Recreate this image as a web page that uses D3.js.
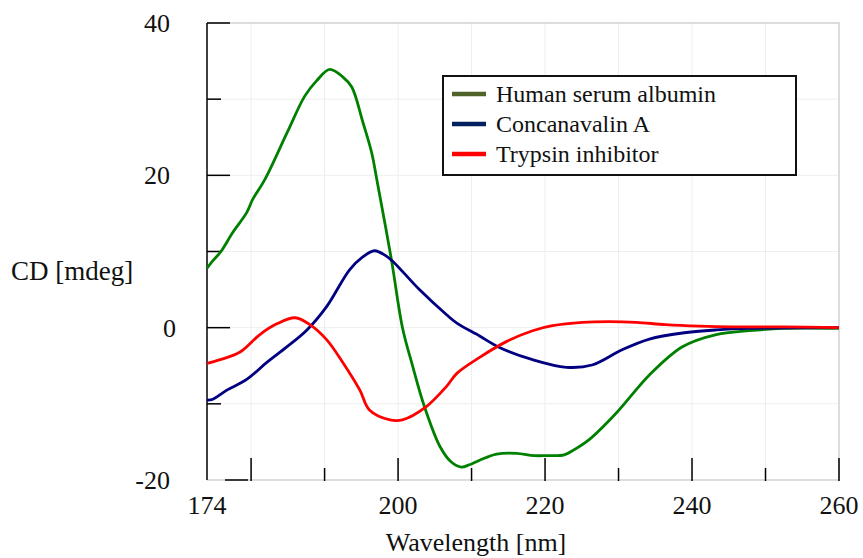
<!DOCTYPE html>
<html>
<head>
<meta charset="utf-8">
<script src="https://cdn.jsdelivr.net/npm/d3@7"></script>
<style>
  body { margin: 0; background: #fff; }
  text { font-family: "Liberation Serif", "Times New Roman", serif; fill: #111; }
</style>
</head>
<body>
<div id="chart"></div>
<script>
// Human serum albumin
var hsaWl = [174, 174.8, 175.9, 177.5, 179.4, 180.2, 181.9, 184.9, 187.3, 188.9, 190.7, 192.5, 193.7, 195.2, 196.4, 197.1, 199.1, 200.6, 202, 203.6, 205.7, 207.2, 208.6, 209.7, 211.1, 213.4, 216.1, 218.5, 220.2, 222.6, 224, 226, 229.7, 234.2, 238.7, 243.3, 247.8, 252.3, 260];
var hsaCd = [7.8, 8.8, 10.0, 12.5, 15.1, 16.8, 19.5, 25.6, 30.4, 32.4, 33.9, 32.9, 31.6, 27.0, 23.0, 19.5, 8.9, 0, -5.1, -10.4, -15.6, -17.6, -18.3, -18.0, -17.4, -16.6, -16.5, -16.8, -16.8, -16.7, -16.0, -14.7, -11.2, -6.2, -2.5, -0.9, -0.4, -0.1, -0.1];

// Concanavalin A
var conWl = [174, 174.8, 176.7, 179.4, 182.1, 184.9, 187.6, 190.3, 193.4, 195.2, 196.8, 198.4, 199.3, 202.9, 206.6, 208, 211.1, 213.8, 218.3, 222.9, 226.4, 230.5, 234.2, 238.7, 243.3, 247.8, 260];
var conCd = [-9.5, -9.4, -8.2, -6.8, -4.6, -2.5, -0.3, 2.8, 7.6, 9.3, 10.1, 9.4, 8.7, 5.0, 1.7, 0.6, -1.1, -2.6, -4.2, -5.2, -4.9, -2.9, -1.5, -0.7, -0.3, -0.1, 0];

// Trypsin inhibitor
var tryWl = [174, 175.8, 178.5, 181.2, 183.5, 186, 188, 190.3, 192.5, 194.8, 196.1, 198.9, 200.6, 203.8, 206.6, 208, 211.1, 214.8, 218.3, 221, 225.1, 228.7, 232.4, 236.4, 241, 245.5, 252.3, 260];
var tryCd = [-4.7, -4.2, -3.2, -0.9, 0.5, 1.3, 0.4, -1.6, -4.6, -8.2, -10.8, -12.1, -12.1, -10.4, -7.7, -6.0, -3.9, -1.8, -0.4, 0.26, 0.7, 0.8, 0.7, 0.4, 0.2, 0.1, 0.1, 0];

var seriesNames = ["Human serum albumin", "Concanavalin A", "Trypsin inhibitor"];
var xLabelTicks = [174, 200, 220, 240, 260];
var xMarkTicks = [180, 190, 200, 210, 220, 230, 240, 250, 260];
var yLabelTicks = [40, 20, 0, -20];
var yMarkTicks = [40, 30, 20, 10, 0, -10];

var lineColors = ["#008000", "#000080", "#ff0000"];
var legendColors = ["#4f6228", "#002060", "#ff0000"];

var svgWidth = 863;
var svgHeight = 558;

var svg = d3.select("#chart")
    .append("svg")
    .attr("width", svgWidth)
    .attr("height", svgHeight);

// plot area edges
var plotLeft = 207, plotRight = 839, plotTop = 23, plotBottom = 480;

var xScale = d3.scaleLinear().domain([174, 260]).range([plotLeft, plotRight]);
var yScale = d3.scaleLinear().domain([-20, 40]).range([plotBottom, plotTop]);

// light grid
svg.append("g").selectAll("line")
    .data([180, 190, 200, 210, 220, 230, 240, 250])
    .enter().append("line")
    .attr("x1", d => xScale(d)).attr("x2", d => xScale(d))
    .attr("y1", plotTop).attr("y2", plotBottom)
    .attr("stroke", "#eeeeee").attr("stroke-width", 1);

svg.append("g").selectAll("line")
    .data([30, 20, 10, 0, -10])
    .enter().append("line")
    .attr("x1", plotLeft).attr("x2", plotRight)
    .attr("y1", d => yScale(d)).attr("y2", d => yScale(d))
    .attr("stroke", "#eeeeee").attr("stroke-width", 1);

// frame: grey top / right / bottom, black left
svg.append("path")
    .attr("d", `M${plotLeft},${plotTop}H${plotRight}V${plotBottom}H${plotLeft}`)
    .attr("fill", "none")
    .attr("stroke", "#d2d2d2")
    .attr("stroke-width", 1.5);

svg.append("line")
    .attr("x1", plotLeft).attr("x2", plotLeft)
    .attr("y1", plotTop).attr("y2", plotBottom)
    .attr("stroke", "#000").attr("stroke-width", 1.5);

// y tick marks (long on labelled values)
svg.append("g").selectAll("line")
    .data(yMarkTicks)
    .enter().append("line")
    .attr("x1", plotLeft)
    .attr("x2", d => plotLeft + (d % 20 === 0 ? 23 : 14))
    .attr("y1", d => yScale(d)).attr("y2", d => yScale(d))
    .attr("stroke", "#000").attr("stroke-width", 1.5);

// the -20 mark sits a little to the right of the axis
svg.append("line")
    .attr("x1", plotLeft + 18).attr("x2", plotLeft + 41)
    .attr("y1", yScale(-20)).attr("y2", yScale(-20))
    .attr("stroke", "#000").attr("stroke-width", 1.5);

// x tick marks pointing up
svg.append("g").selectAll("line")
    .data(xMarkTicks)
    .enter().append("line")
    .attr("x1", d => xScale(d)).attr("x2", d => xScale(d))
    .attr("y1", plotBottom + 1)
    .attr("y2", d => plotBottom - (d % 20 === 0 ? 22 : 12))
    .attr("stroke", "#000").attr("stroke-width", 1.5);

// y labels
svg.append("g").selectAll("text")
    .data(yLabelTicks)
    .enter().append("text")
    .attr("x", d => d === 0 ? 176 : 170)
    .attr("y", d => yScale(d))
    .attr("dy", "0.34em")
    .attr("text-anchor", "end")
    .attr("font-size", "26px")
    .text(d => d);

// x labels
svg.append("g").selectAll("text")
    .data(xLabelTicks)
    .enter().append("text")
    .attr("x", d => xScale(d))
    .attr("y", 514)
    .attr("text-anchor", "middle")
    .attr("font-size", "26px")
    .text(d => d);

// axis titles
svg.append("text")
    .attr("x", 11)
    .attr("y", 280)
    .attr("font-size", "27px")
    .text("CD [mdeg]");

svg.append("text")
    .attr("x", 476)
    .attr("y", 551)
    .attr("text-anchor", "middle")
    .attr("font-size", "26px")
    .text("Wavelength [nm]");

// curves
var series = [
    { wl: hsaWl, cd: hsaCd },
    { wl: conWl, cd: conCd },
    { wl: tryWl, cd: tryCd }
];

var line = d3.line()
    .x(d => xScale(d[0]))
    .y(d => yScale(d[1]))
    .curve(d3.curveCatmullRom.alpha(0.5));

series.forEach(function (s, i) {
    var pts = s.wl.map((w, j) => [w, s.cd[j]]);
    svg.append("path")
        .datum(pts)
        .attr("d", line)
        .attr("fill", "none")
        .attr("stroke", lineColors[i])
        .attr("stroke-width", 2.8)
        .attr("stroke-linejoin", "round");
});

// legend
var legend = svg.append("g").attr("transform", "translate(443,76)");

legend.append("rect")
    .attr("x", 0).attr("y", 0)
    .attr("width", 353).attr("height", 99)
    .attr("fill", "#fff")
    .attr("stroke", "#111")
    .attr("stroke-width", 2);

seriesNames.forEach(function (name, i) {
    var cy = 18 + i * 30;
    legend.append("line")
        .attr("x1", 9).attr("x2", 43)
        .attr("y1", cy).attr("y2", cy)
        .attr("stroke", legendColors[i])
        .attr("stroke-width", 4.5);
    legend.append("text")
        .attr("x", 53)
        .attr("y", cy + 8)
        .attr("font-size", "24px")
        .text(name);
});
</script>
</body>
</html>
